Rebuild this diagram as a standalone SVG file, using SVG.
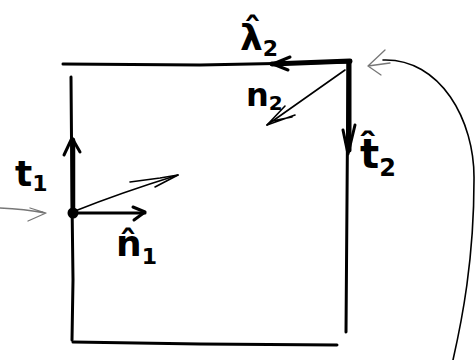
<svg xmlns="http://www.w3.org/2000/svg" width="475" height="360" viewBox="0 0 475 360">
<style>
.ln{fill:none;stroke:#000;stroke-linecap:round;stroke-linejoin:round}
.thin{stroke-width:1.6}
.mid{stroke-width:3}
.thick{stroke-width:5}
.faint{fill:none;stroke:#777;stroke-width:1.3;stroke-linecap:round;stroke-linejoin:round}
.lbl{font-family:"DejaVu Sans","Liberation Sans",sans-serif;font-weight:bold;fill:#000}
</style>
<rect width="475" height="360" fill="#fff"/>
<g id="square">
<path class="ln mid" d="M63,64 L200,65 L350,62"/>
<path class="ln mid" d="M71,77 L72,200 L73,280 L72,340"/>
<path class="ln mid" d="M73,342 L200,344 L337,345"/>
<path class="ln mid" d="M348,62 L347,200 L346,332"/>
</g>
<g id="connectors">
<path class="ln thick" d="M272,64 L350,61"/>
<path class="ln mid" d="M290,57 L273,64 L288,70"/>
<path class="ln thick" d="M349,62 L349,150"/>
<path class="ln mid" d="M343,130 L348,154 L355,125"/>
<path class="ln thin" d="M345,70 L267,125"/>
<path class="ln thin" d="M267,125 L295,115 M267,125 L285,106 M272,121 L292,117"/>
<path class="ln" d="M73,213 L73,140" style="stroke-width:4.5"/>
<path class="ln mid" d="M64,155 L72,138 L80,152"/>
<circle cx="73" cy="213" r="5.5" fill="#000"/>
<path class="ln mid" d="M73,213 L145,213"/>
<path class="ln mid" d="M133,207 L145,212 L134,220"/>
<path class="ln thin" d="M75,211 Q120,193 178,175"/>
<path class="ln thin" d="M130,182 L160,178 L178,175 L155,187"/>
<path class="faint" d="M0,208 Q25,209 45,213 M30,208 L46,213 L28,221"/>
<path class="ln thin" d="M383,60 C440,58 475,120 474,180 C474,260 462,320 453,360"/>
<path class="faint" d="M385,50 L368,66 L381,75 M368,66 L390,63"/>
</g>
<g id="labels">
<text class="lbl" x="240" y="50" font-size="36">λ̂<tspan font-size="22" dy="6">2</tspan></text>
<text class="lbl" x="246" y="106" font-size="32">n<tspan font-size="20" dy="4">2</tspan></text>
<text class="lbl" x="360" y="168" font-size="40">t̂<tspan font-size="24" dy="8">2</tspan></text>
<text class="lbl" x="15" y="186" font-size="36">t<tspan font-size="22" dy="5">1</tspan></text>
<text class="lbl" x="116" y="256" font-size="36">n̂<tspan font-size="22" dy="8">1</tspan></text>
</g>
</svg>
